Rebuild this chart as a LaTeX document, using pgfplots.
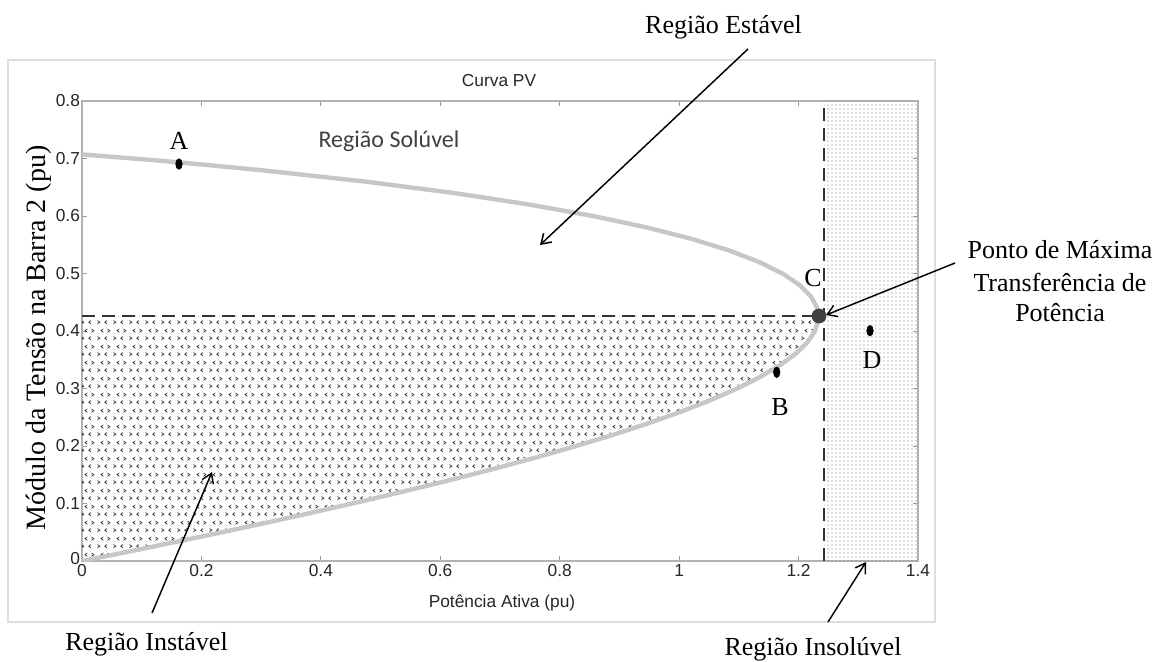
\documentclass[border=0pt]{standalone}
\usepackage{fontspec}
\setmainfont{Liberation Serif}
\newfontfamily\arialf{Liberation Sans}
\newfontfamily\calibrif{Carlito}
\usepackage{pgfplots}
\usepackage{pgfplotstable}
\pgfplotsset{compat=1.18}
\usetikzlibrary{patterns,arrows.meta}

\pgfdeclarepatternformonly{chevrons}{\pgfqpoint{0pt}{0pt}}{\pgfqpoint{12pt}{12pt}}{\pgfqpoint{12pt}{12pt}}{%
  \pgfsetlinewidth{0.55pt}%
  % row 1
  \pgfpathmoveto{\pgfqpoint{1.2pt}{4.3pt}}\pgfpathlineto{\pgfqpoint{3pt}{3pt}}\pgfpathlineto{\pgfqpoint{1.2pt}{1.7pt}}%
  \pgfpathmoveto{\pgfqpoint{8.8pt}{4.3pt}}\pgfpathlineto{\pgfqpoint{7pt}{3pt}}\pgfpathlineto{\pgfqpoint{8.8pt}{1.7pt}}%
  % row 2
  \pgfpathmoveto{\pgfqpoint{5.8pt}{10.3pt}}\pgfpathlineto{\pgfqpoint{4pt}{9pt}}\pgfpathlineto{\pgfqpoint{5.8pt}{7.7pt}}%
  \pgfpathmoveto{\pgfqpoint{9.2pt}{10.3pt}}\pgfpathlineto{\pgfqpoint{11pt}{9pt}}\pgfpathlineto{\pgfqpoint{9.2pt}{7.7pt}}%
  \pgfusepath{stroke}}

% PV curve: P (pu), V (pu)
\pgfplotstableread{
P V
0.0000 0.000
0.0955 0.020
0.1888 0.040
0.2795 0.060
0.3676 0.080
0.4527 0.100
0.5348 0.120
0.6135 0.140
0.6887 0.160
0.7601 0.180
0.8276 0.200
0.8909 0.220
0.9497 0.240
1.0039 0.260
1.0531 0.280
1.0971 0.300
1.1355 0.320
1.1681 0.340
1.1946 0.360
1.2145 0.380
1.2276 0.400
1.2333 0.420
1.2335 0.425
1.2312 0.440
1.2209 0.460
1.2017 0.480
1.1729 0.500
1.1340 0.520
1.0839 0.540
1.0218 0.560
0.9462 0.580
0.8559 0.600
0.7488 0.620
0.6226 0.640
0.4737 0.660
0.2974 0.680
0.1967 0.690
0.1427 0.695
0.0859 0.700
0.0261 0.705
0.0000 0.7071
}\pvcurve

\newcommand\annfont{\fontsize{19.5}{24}\selectfont}
\newcommand\sansfont{\arialf\fontsize{13}{15}\selectfont}

\begin{document}
\begin{tikzpicture}
\begin{axis}[
  at={(61.5pt,-420.75pt)}, anchor=south west,
  scale only axis, width=627pt, height=345pt,
  xmin=0, xmax=1.4, ymin=0, ymax=0.8,
  xtick={0,0.2,0.4,0.6,0.8,1,1.2,1.4},
  ytick={0,0.1,0.2,0.3,0.4,0.5,0.6,0.7,0.8},
  yticklabels={\raisebox{4pt}{0},0.1,0.2,0.3,0.4,0.5,0.6,0.7,0.8},
  tick align=inside,
  major tick length=4pt,
  axis line style={black!30, line width=0.8pt},
  every tick/.style={black!40, line width=0.6pt},
  tick label style={font=\sansfont, text=black!85},
  /pgf/number format/assume math mode=true,
  xticklabel style={yshift=1pt},
  yticklabel style={xshift=2pt},
]
% unstable region (hatched)
\addplot[draw=none, pattern=chevrons, pattern color=black!85] coordinates {
 (0,0) (0.0955,0.02) (0.1888,0.04) (0.2795,0.06) (0.3676,0.08) (0.4527,0.10)
 (0.5348,0.12) (0.6135,0.14) (0.6887,0.16) (0.7601,0.18) (0.8276,0.20)
 (0.8909,0.22) (0.9497,0.24) (1.0039,0.26) (1.0531,0.28) (1.0971,0.30)
 (1.1355,0.32) (1.1681,0.34) (1.1946,0.36) (1.2145,0.38) (1.2276,0.40)
 (1.2333,0.42) (1.2335,0.426) (0,0.426)} -- cycle;
% insoluble region (dots)
\addplot[draw=none, pattern=dots, pattern color=black!55] coordinates {
 (1.2426,0) (1.4,0) (1.4,0.8) (1.2426,0.8)} -- cycle;
% PV curve
\addplot[color=black!22, line width=3.3pt, line join=round] table[x=P,y=V] {\pvcurve};
% dashed limits
\addplot[color=black!80, line width=1.1pt, dash pattern=on 10pt off 5pt] coordinates {(0,0.426) (1.2426,0.426)};
\addplot[color=black!80, line width=1.1pt, dash pattern=on 10pt off 5pt] coordinates {(1.2426,0) (1.2426,0.8)};
% operating points
\addplot[only marks, mark=*, mark size=4pt, mark options={xscale=0.62, fill=black, draw=black}] coordinates {(0.1624,0.6904) (1.1634,0.3282) (1.3196,0.4005)};
\addplot[only marks, mark=*, mark size=5.3pt, mark options={fill=black!75, draw=black!75}] coordinates {(1.2342,0.4261)};
\end{axis}

\begin{scope}[x=0.75pt,y=-0.75pt]
  \draw[black!13, line width=1.5pt] (8,60) rectangle (935,622);
  % title and axis labels
  \node[font=\sansfont, text=black!85] at (499,81) {Curva PV};
  \node[font=\sansfont, text=black!85] at (502,603) {Potência Ativa (pu)};
  \node[font=\fontsize{21}{24}\selectfont, rotate=90, anchor=base] at (45,338) {Módulo da Tensão na Barra 2 (pu)};
  % in-plot labels
  \node[font=\calibrif\fontsize{18}{20}\selectfont, text=black!75, anchor=base] at (389,147) {Região Solúvel};
  \node[font=\annfont, anchor=base] at (179,149) {A};
  \node[font=\annfont, anchor=base] at (780,415.7) {B};
  \node[font=\annfont, anchor=base] at (813,286.7) {C};
  \node[font=\annfont, anchor=base] at (872,368) {D};
  % outside annotations
  \node[font=\annfont, anchor=base] at (723.5,33) {Região Estável};
  \node[font=\annfont, anchor=base] at (1060,258) {Ponto de Máxima};
  \node[font=\annfont, anchor=base] at (1060,291) {Transferência de};
  \node[font=\annfont, anchor=base] at (1060,321) {Potência};
  \node[font=\annfont, anchor=base] at (146.5,650) {Região Instável};
  \node[font=\annfont, anchor=base] at (813,655) {Região Insolúvel};
  % arrows
  \begin{scope}[line width=1.1pt, -{Straight Barb[length=7pt,width=9pt]}]
    \draw (748,49) -- (540,245);
    \draw (955,263) -- (826,315);
    \draw (152,613) -- (212,472);
    \draw (828,622) -- (866,562);
  \end{scope}
\end{scope}
\pgfresetboundingbox
\path[use as bounding box] (0,0) rectangle (871.5pt,-495.75pt);
\end{tikzpicture}
\end{document}
